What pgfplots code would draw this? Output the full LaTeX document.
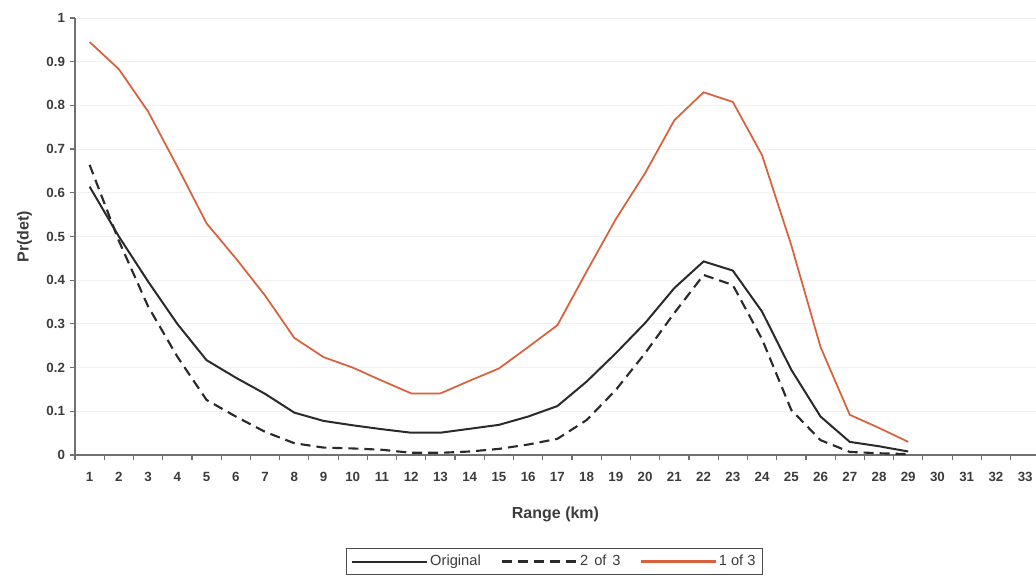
\documentclass[border=0pt]{standalone}
\usepackage{pgfplots}
\pgfplotsset{compat=1.18}
\usepackage{fontspec}
\setmainfont{Liberation Sans}
\definecolor{redline}{HTML}{D9603B}
\definecolor{darkline}{HTML}{2A2A2A}
\definecolor{txt}{HTML}{3C3C3C}
\definecolor{axgray}{HTML}{707070}
\begin{document}
\begin{tikzpicture}[x=0.75pt,y=0.75pt]
\useasboundingbox (0,0) rectangle (1036,579);
\begin{axis}[
  at={(56.25pt,93pt)}, anchor=south west,
  scale only axis, width=720.75pt, height=327.75pt,
  xmin=0.5, xmax=33.37, ymin=0, ymax=1,
  axis x line*=bottom, axis y line*=left,
  axis line style={axgray, line width=0.9pt, -},
  xtick={1,...,33},
  minor xtick={0.5,1.5,...,33.5},
  ytick={0,0.1,...,1.01},
  yticklabels={0,0.1,0.2,0.3,0.4,0.5,0.6,0.7,0.8,0.9,1},
  major tick length=4pt, minor tick length=4pt,
  tick align=outside,
  x tick style={draw=none},
  minor x tick style={draw=axgray, line width=0.9pt},
  y tick style={draw=axgray, line width=0.9pt},
  ymajorgrids, major grid style={draw=black!5, line width=0.6pt},
  /pgf/number format/assume math mode=true,
  tick label style={font=\fontsize{10}{12}\selectfont\bfseries, text=txt},
  xticklabel style={yshift=-5pt, text height=7.5pt, text depth=0pt},
  xlabel={Range (km)}, ylabel={Pr(det)},
  label style={font=\fontsize{12}{14}\selectfont\bfseries, text=txt},
  xlabel style={yshift=-12pt},
  ylabel style={yshift=4pt},
  legend columns=3,
  legend style={at={(0.499,-0.213)}, anchor=north, draw=black!70, line width=0.7pt,
    font=\fontsize{11}{13}\selectfont, inner sep=3pt,
    /tikz/every even column/.append style={column sep=13pt}},
  legend image code/.code={\draw[#1] (0pt,0pt) -- (56pt,0pt);},
]
\addplot[draw=darkline, line width=1.5pt] coordinates {
(1,0.614) (2,0.50) (3,0.397) (4,0.30) (5,0.217) (6,0.177) (7,0.14) (8,0.097) (9,0.078) (10,0.068) (11,0.059) (12,0.051) (13,0.051) (14,0.06) (15,0.069) (16,0.088) (17,0.112) (18,0.168) (19,0.233) (20,0.302) (21,0.382) (22,0.443) (23,0.422) (24,0.328) (25,0.195) (26,0.088) (27,0.03) (28,0.02) (29,0.008)};
\addlegendentry{\textcolor{txt}{Original}}
\addplot[draw=darkline, line width=1.6pt, dash pattern=on 7.5pt off 4.5pt] coordinates {
(1,0.664) (2,0.49) (3,0.34) (4,0.225) (5,0.126) (6,0.088) (7,0.053) (8,0.027) (9,0.017) (10,0.015) (11,0.012) (12,0.005) (13,0.005) (14,0.008) (15,0.014) (16,0.024) (17,0.037) (18,0.08) (19,0.149) (20,0.233) (21,0.325) (22,0.412) (23,0.389) (24,0.265) (25,0.103) (26,0.034) (27,0.007) (28,0.004) (29,0.002)};
\addlegendentry{\textcolor{txt}{2\hspace{0.4em}of\hspace{0.4em}3}}
\addplot[draw=redline, line width=1.3pt, forget plot] coordinates {
(1,0.945) (2,0.883) (3,0.786) (4,0.66) (5,0.53) (6,0.45) (7,0.365) (8,0.268) (9,0.224) (10,0.2) (11,0.17) (12,0.141) (13,0.141) (14,0.17) (15,0.198) (16,0.247) (17,0.297) (18,0.42) (19,0.54) (20,0.645) (21,0.766) (22,0.83) (23,0.808) (24,0.686) (25,0.48) (26,0.247) (27,0.092) (28,0.062) (29,0.03)};
\addlegendimage{legend image code/.code={\fill[redline] (0pt,-0.65pt) rectangle (56pt,0.65pt);}}
\addlegendentry{\textcolor{txt}{1 of 3}}
\end{axis}
\end{tikzpicture}
\end{document}
